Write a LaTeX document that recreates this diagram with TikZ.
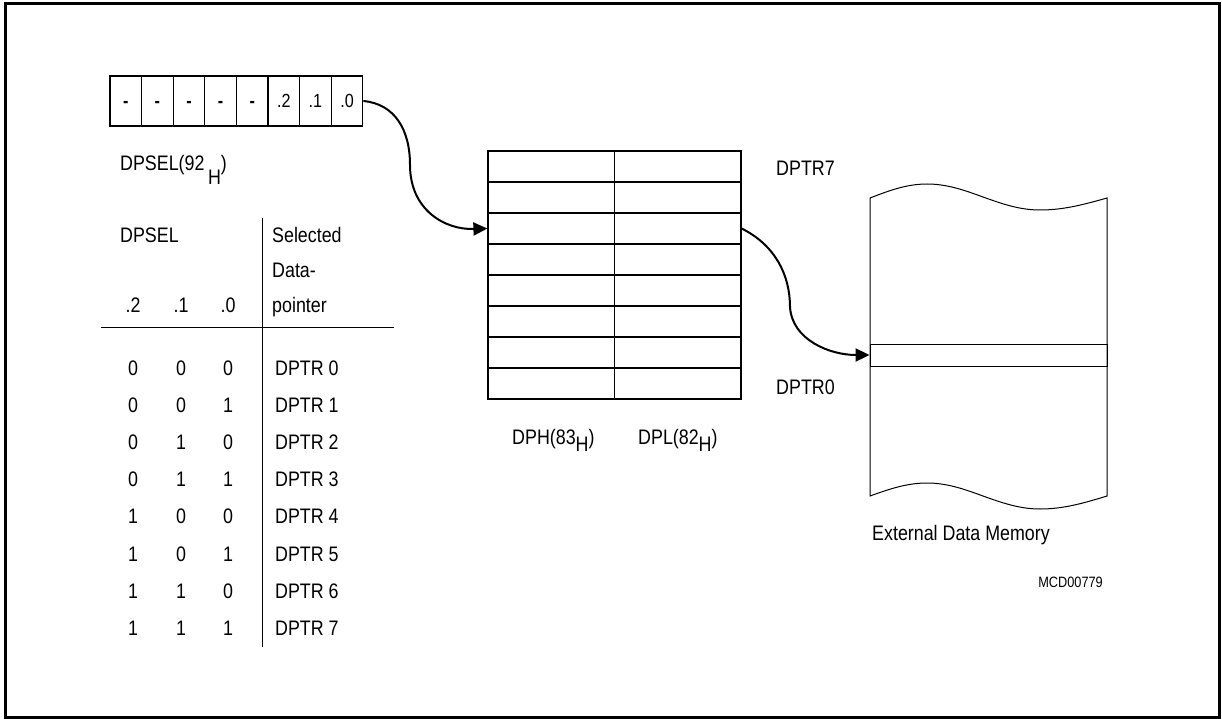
\documentclass[tikz,border=0pt]{standalone}
\usepackage{fontspec}
\setmainfont{Liberation Sans}[FakeStretch=0.85]
\usetikzlibrary{arrows.meta}
\newcommand{\hsub}[1][0.4em]{\raisebox{-#1}{H}}

\begin{document}
\begin{tikzpicture}[x=1pt, y=-1pt, font=\fontsize{21}{25}\selectfont,
        txt/.style = {inner sep=0pt, text height=15pt, text depth=0pt},
        bit/.style = {draw, line width=1.2pt, minimum width=31.6pt, minimum height=50pt,
            inner sep=0pt, text height=13.5pt, text depth=0pt, font=\fontsize{19}{23}\selectfont},
        cell/.style = {draw, line width=1.2pt, minimum width=126.5pt, minimum height=31pt, inner sep=0pt},
        ptr/.style = {line width=2pt, -{Triangle[length=14pt,width=13pt]}}]
        \useasboundingbox (0,0) rectangle (1222,719);
        \draw[line width=3pt] (5.5,3.2) rectangle (1219,717.3);

        % DPSEL register
        \foreach \t [count=\i] in {{\bfseries -},{\bfseries -},{\bfseries -},{\bfseries -},{\bfseries -},.2,.1,.0}
            \node[bit] (b\i) at ({110+(\i-0.5)*31.6},101) {\t};
        \node[txt, anchor=west] (dpsel) at (120,163) {DPSEL(92\,\hsub[0.65em])};

        % selection table
        \draw[line width=1pt] (262,218) -- (262,647);
        \draw[line width=1pt] (101,327) -- (394,327);
        \node[txt, anchor=west] (head) at (120,235) {DPSEL};
        \node[txt, anchor=west] (sel1) at (272,235) {Selected};
        \node[txt, anchor=west] (sel2) at (272,270) {Data-};
        \node[txt, anchor=west] (sel3) at (272,305) {pointer};
        \node[txt] (c2) at (133,305) {.2};
        \node[txt] (c1) at (181,305) {.1};
        \node[txt] (c0) at (228,305) {.0};
        \foreach \n in {0,...,7} {
            \pgfmathtruncatemacro{\ba}{floor(\n/4)}
            \pgfmathtruncatemacro{\bb}{mod(floor(\n/2),2)}
            \pgfmathtruncatemacro{\bc}{mod(\n,2)}
            \node[txt] (r\n a) at (133,{368+\n*37.1}) {\ba};
            \node[txt] (r\n b) at (181,{368+\n*37.1}) {\bb};
            \node[txt] (r\n c) at (228,{368+\n*37.1}) {\bc};
            \node[txt, anchor=west] (r\n) at (275,{368+\n*37.1}) {DPTR \n};
        }

        % data pointers
        \foreach \k in {0,...,7} {
            \node[cell] (dph\k) at (551.25,{151+(7-\k)*31+15.5}) {};
            \node[cell] (dpl\k) at (677.75,{151+(7-\k)*31+15.5}) {};
        }
        \node[txt, anchor=west] (top) at (776,168) {DPTR7};
        \node[txt, anchor=west] (bot) at (776,387) {DPTR0};
        \node[txt, anchor=west] (hname) at (512,437) {DPH(83\hsub[0.35em])};
        \node[txt, anchor=west] (lname) at (638,437) {DPL(82\hsub[0.35em])};

        % external data memory
        \draw[line width=1pt] (870,198) sin (927,184) cos (983,197) sin (1040,210) cos (1107,198)
            -- (1107,496) sin (1040,509) cos (983,496) sin (927,483) cos (870,496) -- cycle;
        \node[draw, line width=0.9pt, minimum width=237pt, minimum height=22pt, inner sep=0pt] (slot) at (988.5,355) {};
        \node[txt, anchor=west] (mem) at (872,533) {External Data Memory};
        \node[txt, anchor=east, font=\fontsize{15}{18}\selectfont, text height=11pt] (code) at (1103,582) {MCD00779};

        \draw[ptr] (b8.east) .. controls (395,104) and (410,130) .. (410,165)
            .. controls (410,210) and (445,230) .. (dph5.west);
        \draw[ptr] (dpl5.east) .. controls (775,245) and (790,275) .. (790,307)
            .. controls (792,340) and (830,355) .. (slot.west);

    \end{tikzpicture}
\end{document}
